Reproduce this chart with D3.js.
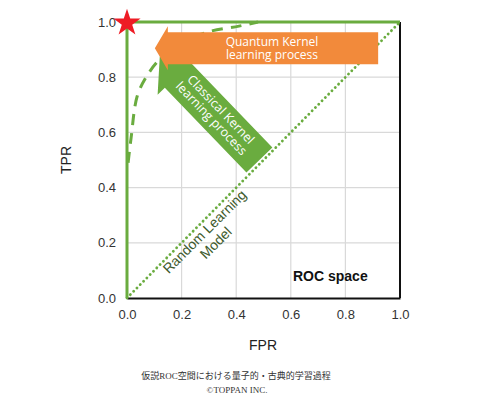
<!DOCTYPE html>
<html><head><meta charset="utf-8">
<script src="https://cdn.jsdelivr.net/npm/d3@7"></script>
<style>body{margin:0;background:#fff}svg{display:block}</style>
</head><body>
<svg id="c" width="500" height="405"></svg>
<script>
const xTicks = [0.0, 0.2, 0.4, 0.6, 0.8, 1.0];
const yTicks = [0.0, 0.2, 0.4, 0.6, 0.8, 1.0];
const perfectFPR = [0, 0, 1];
const perfectTPR = [0, 1, 1];
const randomFPR = [0, 1];
const randomTPR = [0, 1];
const classicalFPR = [0.004, 0.015, 0.037, 0.07, 0.12, 0.2, 0.3, 0.41, 0.48];
const classicalTPR = [0.49, 0.58, 0.73, 0.80, 0.865, 0.925, 0.965, 0.985, 1.0];
const bestFPR = [0];
const bestTPR = [1];

const GREEN = "#6aac3f", ORANGE = "#f28a3b";
const svg = d3.select("#c");
const x = d3.scaleLinear().domain([0, 1]).range([127, 400]);
const y = d3.scaleLinear().domain([0, 1]).range([298, 22]);

// grid
svg.append("g").selectAll("line.v").data(xTicks.slice(1, -1)).join("line")
  .attr("x1", d => x(d)).attr("x2", d => x(d)).attr("y1", y(0)).attr("y2", y(1))
  .attr("stroke", "#d9d9d9").attr("stroke-width", 1.2);
svg.append("g").selectAll("line.h").data(yTicks.slice(1, -1)).join("line")
  .attr("x1", x(0)).attr("x2", x(1)).attr("y1", d => y(d)).attr("y2", d => y(d))
  .attr("stroke", "#d9d9d9").attr("stroke-width", 1.2);

// axes frame (bottom & right black)
const xAxis = d3.axisBottom(x).tickValues(xTicks).tickFormat(d3.format(".1f")).tickSize(0).tickPadding(12);
const gx = svg.append("g").attr("transform", `translate(0,${y(0)})`).call(xAxis);
gx.select(".domain").attr("stroke", "#111").attr("stroke-width", 2);
gx.selectAll("text").attr("font-family", "Arial, 'Liberation Sans', sans-serif").attr("font-size", 13).attr("fill", "#333");
const yAxis = d3.axisLeft(y).tickValues(yTicks).tickFormat(d3.format(".1f")).tickSize(0).tickPadding(11);
const gy = svg.append("g").attr("transform", `translate(${x(0)},0)`).call(yAxis);
gy.select(".domain").remove();
gy.selectAll("text").attr("font-family", "Arial, 'Liberation Sans', sans-serif").attr("font-size", 13).attr("fill", "#333");
svg.append("line").attr("x1", x(1)).attr("x2", x(1)).attr("y1", y(1)).attr("y2", y(0))
  .attr("stroke", "#111").attr("stroke-width", 2);

const line = d3.line().x(d => x(d[0])).y(d => y(d[1]));

// random diagonal (dotted)
svg.append("path").datum(randomFPR.map((v, i) => [v, randomTPR[i]]))
  .attr("d", line).attr("fill", "none").attr("stroke", GREEN)
  .attr("stroke-width", 2.8).attr("stroke-dasharray", "0.1 4.6").attr("stroke-linecap", "round");

// classical curve (dashed)
svg.append("path").datum(classicalFPR.map((v, i) => [v, classicalTPR[i]]))
  .attr("d", line.curve(d3.curveCatmullRom)).attr("fill", "none").attr("stroke", GREEN)
  .attr("stroke-width", 3).attr("stroke-dasharray", "11 8");
line.curve(d3.curveLinear);

// perfect (solid)
svg.append("path").datum(perfectFPR.map((v, i) => [v, perfectTPR[i]]))
  .attr("d", line).attr("fill", "none").attr("stroke", GREEN).attr("stroke-width", 3);

// arrow helper
function arrowPath(tip, end, bw, hw, hl) {
  const dx = end[0] - tip[0], dy = end[1] - tip[1];
  const L = Math.hypot(dx, dy), ux = dx / L, uy = dy / L, px = -uy, py = ux;
  const hb = [tip[0] + ux * hl, tip[1] + uy * hl];
  const P = (b, s) => [b[0] + px * s, b[1] + py * s];
  const pts = [tip, P(hb, hw / 2), P(hb, bw / 2), P(end, bw / 2), P(end, -bw / 2), P(hb, -bw / 2), P(hb, -hw / 2)];
  return "M" + pts.map(p => p.join(",")).join("L") + "Z";
}

// Green arrow (classical)
const gTip = [x(0.12), y(0.875)], gEnd = [x(0.485), y(0.5)];
svg.append("path").attr("d", arrowPath(gTip, gEnd, 36, 56, 26)).attr("fill", GREEN);
const ang = Math.atan2(gEnd[1] - gTip[1], gEnd[0] - gTip[0]) * 180 / Math.PI;
const gc = [gTip[0] + (gEnd[0] - gTip[0]) * 0.56, gTip[1] + (gEnd[1] - gTip[1]) * 0.56];
const gt = svg.append("text").attr("transform", `translate(${gc[0]},${gc[1]}) rotate(${ang})`)
  .attr("text-anchor", "middle").attr("fill", "#fff")
  .attr("font-family", "'Open Sans', sans-serif").attr("font-size", 12.5);
gt.append("tspan").attr("x", 0).attr("y", -3).text("Classical Kernel");
gt.append("tspan").attr("x", 0).attr("y", 10).text("learning process");

// Orange arrow (quantum)
const oTip = [x(0.102), y(0.905)], oEnd = [x(0.92), y(0.905)];
svg.append("path").attr("d", arrowPath(oTip, oEnd, 32, 44, 13)).attr("fill", ORANGE);
[["Quantum Kernel", 45.5], ["learning process", 58.5]].forEach(([t, yy]) =>
  svg.append("text").attr("x", 272).attr("y", yy).attr("text-anchor", "middle").attr("fill", "#fff")
    .attr("font-family", "'Open Sans', sans-serif").attr("font-size", 12).text(t));

// Random label
const rt = svg.append("text").attr("transform", `translate(208,235) rotate(-45)`)
  .attr("text-anchor", "middle").attr("fill", "#3d5a2c")
  .attr("font-family", "Arial, 'Liberation Sans', sans-serif").attr("font-size", 14);
rt.append("tspan").attr("x", 0).attr("y", 0).text("Random Learning");
rt.append("tspan").attr("x", 0).attr("y", 16).text("Model");

// Star
svg.selectAll("path.star").data(bestFPR.map((v, i) => [v, bestTPR[i]])).join("path")
  .attr("d", d3.symbol(d3.symbolStar, 230)())
  .attr("transform", d => `translate(${x(d[0])},${y(d[1]) + 1})`).attr("fill", "#ee1c25");

// labels
svg.append("text").attr("x", 293).attr("y", 281).attr("font-family", "Arial, 'Liberation Sans', sans-serif")
  .attr("font-weight", "bold").attr("font-size", 14).attr("fill", "#111").text("ROC space");
svg.append("text").attr("x", 263).attr("y", 350).attr("text-anchor", "middle")
  .attr("font-family", "Arial, 'Liberation Sans', sans-serif").attr("font-size", 14).attr("fill", "#222").text("FPR");
svg.append("text").attr("transform", "translate(71,160) rotate(-90)").attr("text-anchor", "middle")
  .attr("font-family", "Arial, 'Liberation Sans', sans-serif").attr("font-size", 14).attr("fill", "#222").text("TPR");

svg.append("text").attr("x", 236).attr("y", 379).attr("text-anchor", "middle")
  .attr("font-family", "'Liberation Serif', 'Noto Sans CJK JP', serif").attr("font-size", 9).attr("fill", "#333")
  .text("仮説ROC空間における量子的・古典的学習過程");
svg.append("text").attr("x", 237).attr("y", 393).attr("text-anchor", "middle")
  .attr("font-family", "'Liberation Serif', serif").attr("font-size", 9).attr("fill", "#333")
  .text("©TOPPAN INC.");
</script>
</body></html>
